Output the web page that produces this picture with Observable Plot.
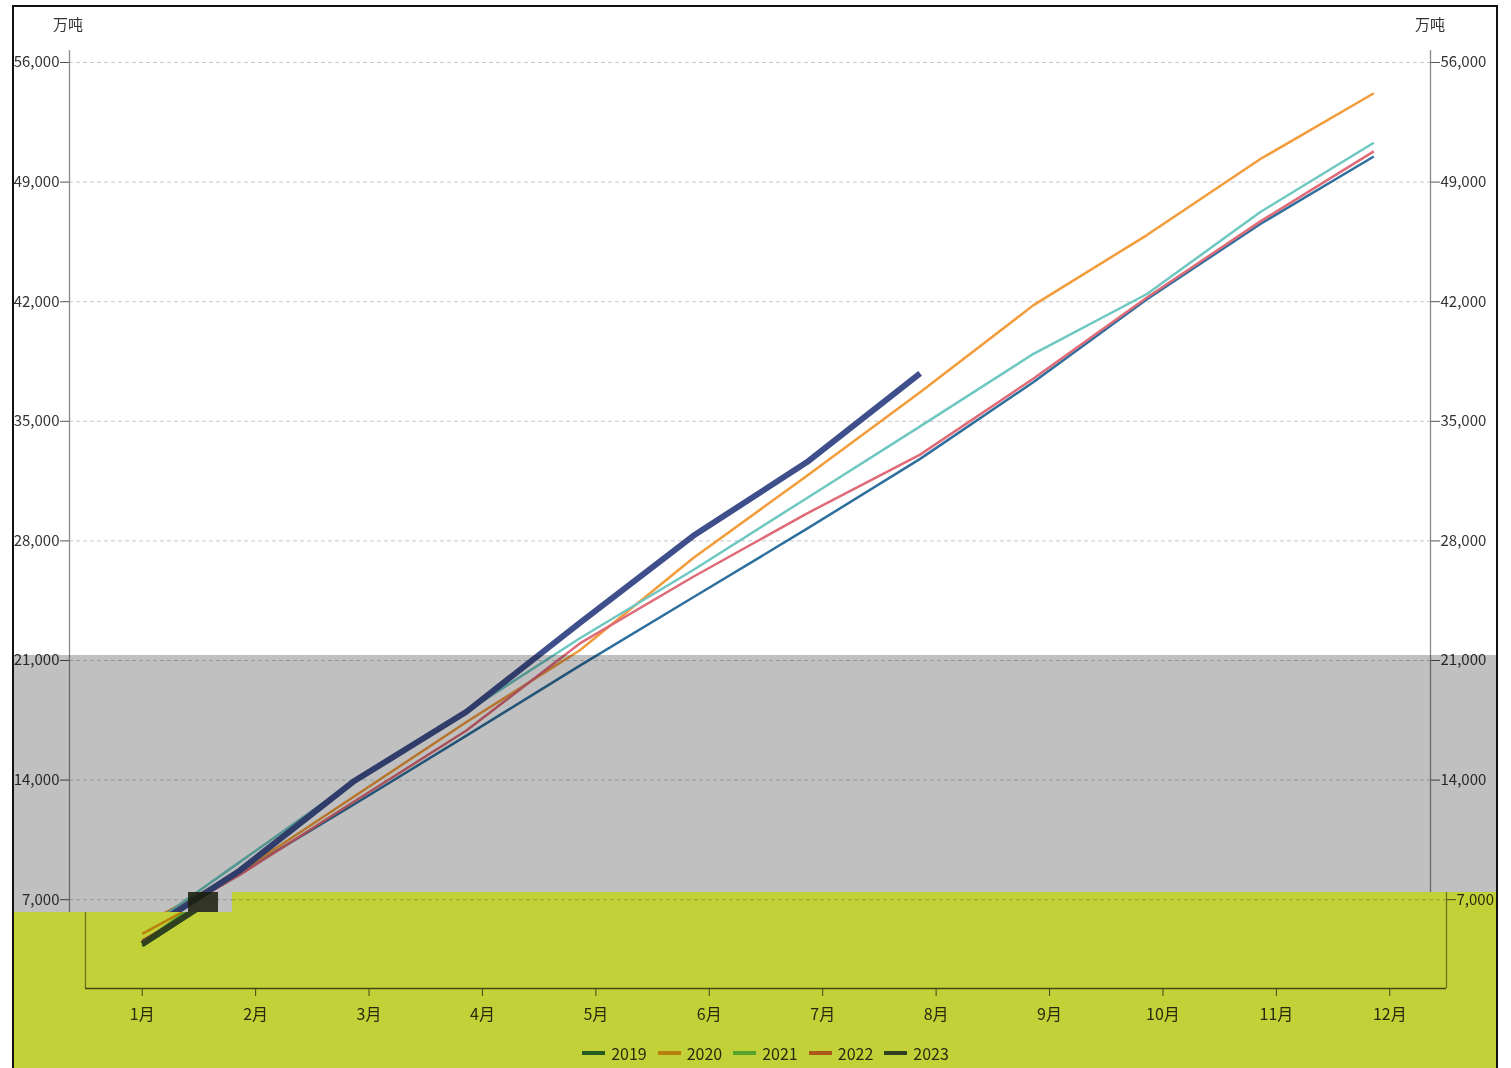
<!DOCTYPE html>
<html>
<head>
<meta charset="utf-8">
<script src="https://cdn.jsdelivr.net/npm/d3@7"></script>
<script src="https://cdn.jsdelivr.net/npm/@observablehq/plot@0.6"></script>
<style>
  html, body { margin: 0; padding: 0; background: #fff; }
  body { width: 1511px; height: 1068px; overflow: hidden; font-family: "Noto Sans CJK SC", "Noto Sans", sans-serif; }
  #stage { position: relative; width: 1511px; height: 1068px; background: #fff; isolation: isolate; overflow: hidden; }
  .wrap { position: absolute; left: 0; top: 0; width: 1511px; height: 1068px; }
  .chart { position: absolute; top: 0; width: 1511px; height: 1068px; }
  .unit { position: absolute; top: 13px; font-size: 15px; color: #333; transform: translateX(-50%); }
  .legend { position: absolute; left: 85px; width: 1361px; top: 1041px; display: flex; justify-content: center; gap: 11px; font-size: 16px; color: #333; line-height: 24px; }
  .legend .item { display: flex; align-items: center; gap: 6px; }
  .legend .sw { width: 23px; height: 4px; display: inline-block; }
  .overlay { position: absolute; left: 0; top: 0; width: 1511px; height: 1068px; mix-blend-mode: multiply; pointer-events: none; }
  #gray { background: #c0c0c0; clip-path: polygon(13px 655px, 1497px 655px, 1497px 892px, 232px 892px, 232px 912px, 13px 912px); }
  #yellow { background: #c2d138; clip-path: polygon(232px 892px, 1497px 892px, 1497px 1068px, 13px 1068px, 13px 912px, 232px 912px); }
  #glitch { position: absolute; left: 188px; top: 892px; width: 30px; height: 20px; background: #1a1d0c; opacity: 0.85; }
  #border { position: absolute; left: 12px; top: 5px; width: 1482px; height: 1100px; border: 2px solid #111; }
</style>
</head>
<body>
<div id="stage"></div>
<script>
// ---- data ----
const months = [1, 2, 3, 4, 5, 6, 7, 8, 9, 10, 11, 12];
const monthLabels = ["1月", "2月", "3月", "4月", "5月", "6月", "7月", "8月", "9月", "10月", "11月", "12月"];
const years = ["2019", "2020", "2021", "2022", "2023"];
const v2019 = [4300, 8560, 12540, 16600, 20700, 24700, 28700, 32800, 37300, 42150, 46550, 50500];
const v2020 = [5000, 8600, 13000, 17400, 21600, 27000, 31800, 36700, 41800, 45900, 50350, 54200];
const v2021 = [4500, 9200, 13900, 18000, 22300, 26300, 30500, 34700, 38950, 42450, 47250, 51300];
const v2022 = [4600, 8450, 12700, 16900, 22000, 25900, 29600, 33050, 37500, 42250, 46700, 50800];
const v2023 = [4400, 8700, 13900, 18000, 23200, 28300, 32600, 37800];
const yTicks = [7000, 14000, 21000, 28000, 35000, 42000, 49000, 56000];
const unitLabel = "万吨";
const yearColors = ["#2e6f9e", "#f39c3a", "#6fc7c2", "#e06b78", "#3f4f8c"];

const series = [v2019, v2020, v2021, v2022, v2023];
const table = [];
series.forEach((vals, si) => vals.forEach((v, i) => table.push({ year: years[si], month: months[i], value: v })));

// ---- layout ----
const W = 1511, H = 1068;
const mL = 85, mR = 65, mT = 50, mB = 80;
// pixel calibration: 21,000 at y=660, 56,000 at y=62
const pxPerUnit = (660 - 62) / (56000 - 21000);
const zeroY = 660 + 21000 * pxPerUnit;
const yDomain = [(zeroY - (H - mB)) / pxPerUnit, (zeroY - mT) / pxPerUnit];
const xDomain = [months[0] - 0.5, months[months.length - 1] + 0.5];
const fmt = d3.format(",");
const font = '"Noto Sans CJK SC", "Noto Sans", sans-serif';

// part = "upper" (white/gray region, shifted) or "lower" (yellow region)
function makeChart(part, shift) {
  const div = document.createElement("div");
  div.className = "chart";
  div.style.left = shift + "px";
  const marks = [
    Plot.gridY(yTicks, { stroke: "#c8c8c8", strokeOpacity: 1, strokeDasharray: "4,3" }),
    Plot.ruleX(xDomain, { stroke: "#8a8a8a", strokeWidth: 1.3 }),
    Plot.line(table.filter(d => d.year !== "2023"), { x: "month", y: "value", z: "year", stroke: "year", strokeWidth: 2.5, strokeLinecap: "butt" }),
    Plot.line(table.filter(d => d.year === "2023"), { x: "month", y: "value", z: "year", stroke: "year", strokeWidth: 6, strokeLinecap: "butt" })
  ];
  if (part === "upper") {
    marks.push(
      Plot.axisY(yTicks, { anchor: "left", label: null, tickFormat: fmt, tickSize: 9, tickPadding: 1, fontSize: 15, stroke: "#555" }),
      Plot.axisY(yTicks.slice(1), { anchor: "right", label: null, tickFormat: fmt, tickSize: 9, tickPadding: 1, fontSize: 15, stroke: "#555" })
    );
  } else {
    marks.push(
      Plot.ruleY([yDomain[0]], { stroke: "#555", strokeWidth: 1.5 }),
      Plot.axisY([yTicks[0]], { anchor: "right", label: null, tickFormat: fmt, tickSize: 9, tickPadding: 1, fontSize: 15, stroke: "#555" }),
      Plot.axisX(months, { anchor: "bottom", label: null, tickFormat: d => monthLabels[months.indexOf(d)], tickSize: 8, tickPadding: 12, fontSize: 16, stroke: "#555" })
    );
  }
  const svg = Plot.plot({
    width: W, height: H,
    marginLeft: mL, marginRight: mR, marginTop: mT, marginBottom: mB,
    x: { domain: xDomain, axis: part === "upper" ? null : undefined },
    y: { domain: yDomain },
    color: { domain: years, range: yearColors },
    style: { fontFamily: font, fontSize: "15px", background: "transparent", color: "#333", overflow: "visible" },
    marks
  });
  svg.style.position = "absolute";
  svg.style.left = "0px";
  svg.style.top = "0px";
  div.appendChild(svg);

  if (part === "upper") {
    for (const xPos of [mL - 1, W - mR]) {
      const u = document.createElement("div");
      u.className = "unit";
      u.style.left = xPos + "px";
      u.textContent = unitLabel;
      div.appendChild(u);
    }
  } else {
    const lg = document.createElement("div");
    lg.className = "legend";
    years.forEach((y, i) => {
      const it = document.createElement("span");
      it.className = "item";
      const sw = document.createElement("span");
      sw.className = "sw";
      sw.style.background = yearColors[i];
      const t = document.createElement("span");
      t.textContent = y;
      it.appendChild(sw); it.appendChild(t);
      lg.appendChild(it);
    });
    div.appendChild(lg);
  }
  return div;
}

const stage = document.getElementById("stage");
const upper = document.createElement("div");
upper.className = "wrap";
upper.style.clipPath = "polygon(0px 0px, 1511px 0px, 1511px 892px, 232px 892px, 232px 912px, 0px 912px)";
upper.appendChild(makeChart("upper", -16));
stage.appendChild(upper);

const lower = document.createElement("div");
lower.className = "wrap";
lower.style.clipPath = "polygon(232px 892px, 1511px 892px, 1511px 1068px, 0px 1068px, 0px 912px, 232px 912px)";
lower.appendChild(makeChart("lower", 0));
stage.appendChild(lower);

const gray = document.createElement("div");
gray.className = "overlay"; gray.id = "gray";
stage.appendChild(gray);
const yellow = document.createElement("div");
yellow.className = "overlay"; yellow.id = "yellow";
stage.appendChild(yellow);
const glitch = document.createElement("div");
glitch.id = "glitch";
stage.appendChild(glitch);
const border = document.createElement("div");
border.id = "border";
stage.appendChild(border);
</script>
</body>
</html>
